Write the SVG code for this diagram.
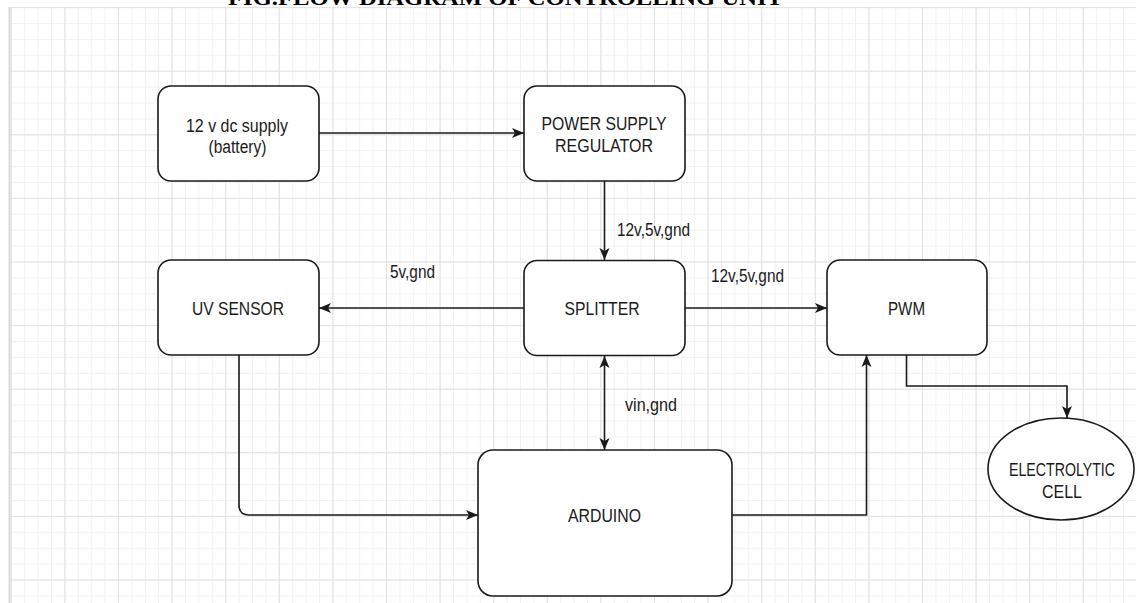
<svg xmlns="http://www.w3.org/2000/svg" width="1136" height="603" viewBox="0 0 1136 603">
  <style>
    .node { fill: #ffffff; stroke: #1a1a1a; stroke-width: 1.6; }
    .lbl { font-family: "Liberation Sans", Arial, sans-serif; font-size: 18px; fill: #1a1a1a; text-anchor: middle; }
    .edge { fill: none; stroke: #1a1a1a; stroke-width: 1.6; }
    .title { font-family: "Liberation Serif", "Times New Roman", serif; font-weight: bold; font-size: 20px; fill: #000; }
  </style>
  <defs>
    <pattern id="minor" patternUnits="userSpaceOnUse" x="10.8" y="7.1" width="13.4" height="15.9">
      <path d="M0,0.5 H13.4 M0.5,0 V15.9" fill="none" stroke="#f1f1f1" stroke-width="1"/>
    </pattern>
    <pattern id="major" patternUnits="userSpaceOnUse" x="10.8" y="7.1" width="53.6" height="63.6">
      <path d="M0,0.5 H53.6 M0.5,0 V63.6" fill="none" stroke="#e1e1e1" stroke-width="1"/>
    </pattern>
    <marker id="arr" viewBox="0 0 12 11" refX="12" refY="5.5" markerWidth="12" markerHeight="11" markerUnits="userSpaceOnUse" orient="auto-start-reverse">
      <path d="M0,0.5 L12,5.5 L0,10.5 L3,5.5 Z" fill="#1a1a1a"/>
    </marker>
  </defs>

  <rect x="0" y="0" width="1136" height="603" fill="#ffffff"/>
  <g id="grid">
    <rect x="9" y="7" width="1127" height="596" fill="url(#minor)"/>
    <rect x="9" y="7" width="1127" height="596" fill="url(#major)"/>
    <line x1="9.5" y1="7" x2="9.5" y2="603" stroke="#d9d9d9" stroke-width="2"/>
  </g>

  <text class="title" x="228" y="5" textLength="555" lengthAdjust="spacingAndGlyphs">FIG.FLOW DIAGRAM OF CONTROLLING UNIT</text>

  <g id="connectors">
    <path class="edge" d="M319,133 H524" marker-end="url(#arr)"/>
    <path class="edge" d="M604.5,181 V260" marker-end="url(#arr)"/>
    <path class="edge" d="M524,308 H319" marker-end="url(#arr)"/>
    <path class="edge" d="M685,308 H827" marker-end="url(#arr)"/>
    <path class="edge" d="M604.5,356 V450" marker-start="url(#arr)" marker-end="url(#arr)"/>
    <path class="edge" d="M239,355 V505 Q239,515 249,515 H478" marker-end="url(#arr)"/>
    <path class="edge" d="M732,515 H866.5 V355" marker-end="url(#arr)"/>
    <path class="edge" d="M906.5,355 V386 H1067 V418" marker-end="url(#arr)"/>
    <text class="lbl" x="653.5" y="236" textLength="73" lengthAdjust="spacingAndGlyphs">12v,5v,gnd</text>
    <text class="lbl" x="412.5" y="278" textLength="45" lengthAdjust="spacingAndGlyphs">5v,gnd</text>
    <text class="lbl" x="747.5" y="282" textLength="73" lengthAdjust="spacingAndGlyphs">12v,5v,gnd</text>
    <text class="lbl" x="651" y="411" textLength="52" lengthAdjust="spacingAndGlyphs">vin,gnd</text>
  </g>

  <g id="node-battery">
    <rect class="node" x="158" y="86" width="161" height="95" rx="13"/>
    <text class="lbl" x="237" y="131.5" textLength="102" lengthAdjust="spacingAndGlyphs">12 v dc supply</text>
    <text class="lbl" x="237.5" y="153" textLength="58" lengthAdjust="spacingAndGlyphs">(battery)</text>
  </g>
  <g id="node-regulator">
    <rect class="node" x="524" y="86" width="161" height="95" rx="13"/>
    <text class="lbl" x="604" y="130" textLength="125" lengthAdjust="spacingAndGlyphs">POWER SUPPLY</text>
    <text class="lbl" x="604" y="152" textLength="98" lengthAdjust="spacingAndGlyphs">REGULATOR</text>
  </g>
  <g id="node-uv">
    <rect class="node" x="158" y="260" width="161" height="95" rx="13"/>
    <text class="lbl" x="238" y="315" textLength="92" lengthAdjust="spacingAndGlyphs">UV SENSOR</text>
  </g>
  <g id="node-splitter">
    <rect class="node" x="524" y="260.5" width="161" height="95" rx="13"/>
    <text class="lbl" x="602" y="315" textLength="75" lengthAdjust="spacingAndGlyphs">SPLITTER</text>
  </g>
  <g id="node-pwm">
    <rect class="node" x="827" y="260" width="160" height="95" rx="13"/>
    <text class="lbl" x="906.5" y="315" textLength="37" lengthAdjust="spacingAndGlyphs">PWM</text>
  </g>
  <g id="node-arduino">
    <rect class="node" x="478" y="450" width="254" height="146" rx="15"/>
    <text class="lbl" x="604.5" y="522" textLength="73" lengthAdjust="spacingAndGlyphs">ARDUINO</text>
  </g>
  <g id="node-cell">
    <ellipse class="node" cx="1061" cy="469" rx="73" ry="51"/>
    <text class="lbl" x="1062" y="476" textLength="106" lengthAdjust="spacingAndGlyphs">ELECTROLYTIC</text>
    <text class="lbl" x="1062" y="498" textLength="40" lengthAdjust="spacingAndGlyphs">CELL</text>
  </g>
</svg>
